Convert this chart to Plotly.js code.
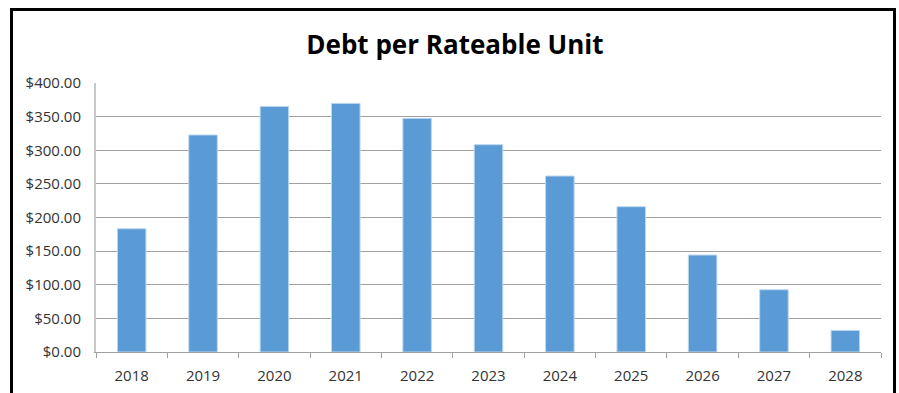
<!DOCTYPE html>
<html>
<head>
<meta charset="utf-8">
<script src="https://cdn.plot.ly/plotly-3.0.1.min.js"></script>
<style>
html,body{margin:0;padding:0;background:#fff;}
#wrap{position:relative;width:899px;height:393px;overflow:hidden;}
#chart{position:absolute;left:0;top:0;width:899px;height:393px;}
#frame{position:absolute;left:10px;top:8px;width:880px;height:400px;border-left:3px solid #000;border-top:3px solid #000;border-right:3px solid #000;pointer-events:none;}
</style>
</head>
<body>
<div id="wrap"><div id="chart"></div><div id="frame"></div></div>
<script>
const years = ["2018","2019","2020","2021","2022","2023","2024","2025","2026","2027","2028"];
const debtPerUnit = [183.3, 322.7, 365.2, 369.7, 347.4, 308.3, 261.7, 216.1, 144.2, 92.6, 32.1];
const chartTitle = "Debt per Rateable Unit";

const trace = {
  type: "bar",
  x: years,
  y: debtPerUnit,
  marker: {color: "#5B9BD5", line: {color: "#BDD7EE", width: 1}},
  hoverinfo: "x+y"
};

const layout = {
  width: 899, height: 393,
  margin: {l: 96, r: 18, t: 83, b: 41, pad: 0},
  paper_bgcolor: "#ffffff",
  plot_bgcolor: "#ffffff",
  bargap: 0.6,
  showlegend: false,
  title: {
    text: "<b>" + chartTitle + "</b>",
    font: {family: "Open Sans, sans-serif", size: 26, color: "#000000"},
    x: 0.506, xanchor: "center", xref: "container",
    y: 0.885, yanchor: "middle", yref: "container"
  },
  xaxis: {
    type: "category",
    showline: true, linecolor: "#A0A0A0", linewidth: 1,
    ticks: "outside", tickson: "boundaries", ticklen: 5, tickcolor: "#A0A0A0",
    ticklabelstandoff: 10,
    tickfont: {family: "Open Sans, sans-serif", size: 15, color: "#333333"},
    showgrid: false, zeroline: false
  },
  yaxis: {
    range: [0, 400], dtick: 50, tick0: 0,
    tickprefix: "$", tickformat: ".2f",
    showline: true, linecolor: "#C8C8C8", linewidth: 2,
    showgrid: true, gridcolor: "#A0A0A0", gridwidth: 1,
    zeroline: false,
    ticks: "", ticklabelstandoff: 10,
    tickfont: {family: "Open Sans, sans-serif", size: 15, color: "#333333"}
  }
};

Plotly.newPlot("chart", [trace], layout, {displayModeBar: false, staticPlot: true});
</script>
</body>
</html>
